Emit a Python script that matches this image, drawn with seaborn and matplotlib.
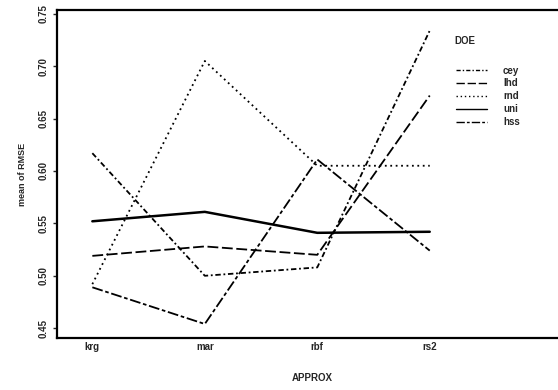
import numpy as np
import pandas as pd
import matplotlib
matplotlib.use("Agg")
import matplotlib.pyplot as plt
import seaborn as sns

approx = ["krg", "mar", "rbf", "rs2"]
doe = ["cey", "lhd", "rnd", "uni", "hss"]

cey = [0.617, 0.500, 0.508, 0.734]
lhd = [0.519, 0.528, 0.520, 0.672]
rnd = [0.492, 0.705, 0.605, 0.605]
uni = [0.552, 0.561, 0.541, 0.542]
hss = [0.489, 0.454, 0.611, 0.524]

values = {"cey": cey, "lhd": lhd, "rnd": rnd, "uni": uni, "hss": hss}
rows = []
for d in doe:
    for a, v in zip(approx, values[d]):
        rows.append({"APPROX": a, "DOE": d, "rmse": v})
df = pd.DataFrame(rows)

sns.set_theme(style="white")
plt.rcParams["font.family"] = ["Liberation Sans", "DejaVu Sans"]
plt.rcParams["font.weight"] = "bold"

fig = plt.figure(figsize=(5.58, 3.9), dpi=100)
ax = fig.add_axes([0.102, 0.133, 0.91, 0.841])

dash_map = {
    "cey": (3, 1.5, 1, 1.5),
    "lhd": (6, 2),
    "rnd": (1, 2),
    "uni": "",
    "hss": (6, 1.5, 2, 1.5),
}
sns.lineplot(data=df, x="APPROX", y="rmse", hue="DOE", style="DOE",
             hue_order=doe, style_order=doe,
             palette=["black"] * 5, dashes=dash_map, sort=False,
             linewidth=1.3, ax=ax)
ax.lines[3].set_linewidth(1.8)

ax.set_xlim(-0.315, 4.2)
ax.set_ylim(0.4405, 0.7535)
ax.set_yticks([0.45, 0.50, 0.55, 0.60, 0.65, 0.70, 0.75])
ax.set_yticklabels(["0.45", "0.50", "0.55", "0.60", "0.65", "0.70", "0.75"],
                   rotation=90, va="center", fontsize=7, fontweight="bold")
ax.set_xticks(range(len(approx)))
ax.set_xticklabels(approx, fontsize=7, fontweight="bold")
ax.tick_params(axis="y", length=3, width=1, direction="out", left=True, pad=3)
ax.tick_params(axis="x", length=0, pad=3)

for s in ["left", "bottom", "top"]:
    ax.spines[s].set_color("black")
    ax.spines[s].set_linewidth(1.6)
ax.spines["right"].set_visible(False)

ax.set_ylabel("mean of RMSE", fontsize=6.5, fontweight="bold", labelpad=8)
ax.set_xlabel("APPROX", fontsize=7, fontweight="bold")
ax.xaxis.set_label_coords(0.502, -0.122)
ax.xaxis.label.set_va("center")

leg = ax.legend(loc="upper left", bbox_to_anchor=(0.779, 0.843),
                frameon=False, fontsize=7,
                handlelength=3.2, handletextpad=1.6, labelspacing=0.3,
                borderaxespad=0)
for t in leg.get_texts():
    t.set_fontweight("bold")
for h in leg.get_lines():
    h.set_color("black")
    h.set_linewidth(1.0)
ax.text(0.783, 0.905, "DOE", transform=ax.transAxes, fontsize=7,
        fontweight="bold", va="center", ha="left")

fig.savefig("out.png", dpi=100)
